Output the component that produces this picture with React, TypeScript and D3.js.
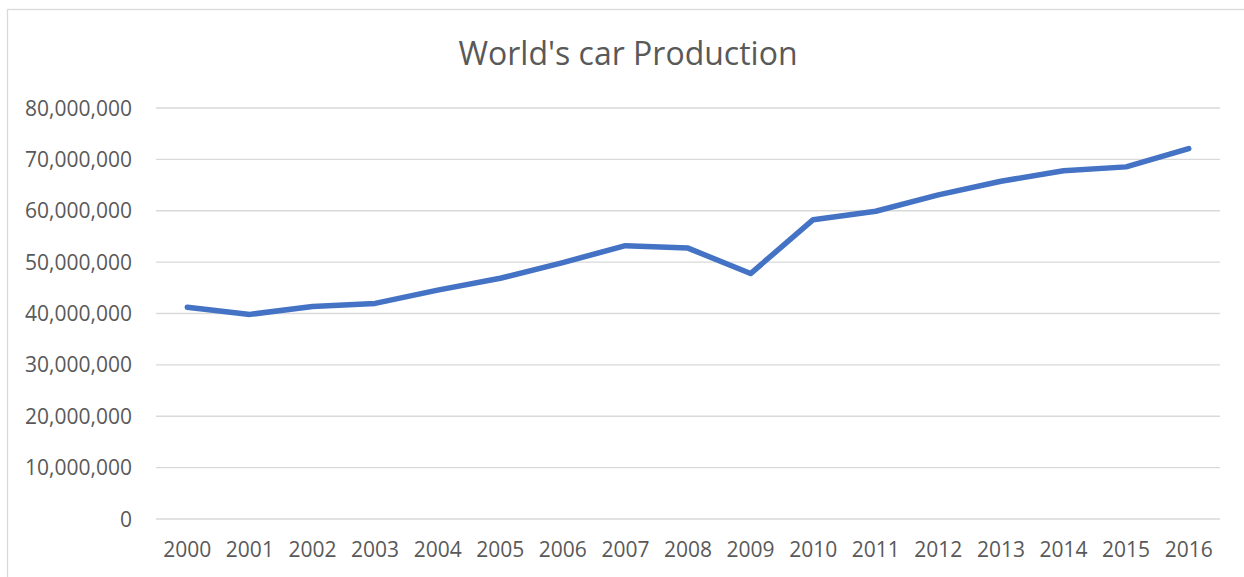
import React, { useEffect, useRef } from "react";
import * as d3 from "d3";

const years: string[] = [
  "2000", "2001", "2002", "2003", "2004", "2005", "2006", "2007", "2008",
  "2009", "2010", "2011", "2012", "2013", "2014", "2015", "2016",
];

const production: number[] = [
  41215653, 39825888, 41358394, 41968666, 44554268, 46862978, 49918578,
  53201346, 52726117, 47772598, 58264852, 59897273, 63081024, 65745403,
  67782035, 68539516, 72105435,
];

const yTicks: number[] = [0, 10000000, 20000000, 30000000, 40000000, 50000000, 60000000, 70000000, 80000000];

const title = "World's car Production";

const W = 1244;
const H = 577;
const FONT = "'Open Sans', 'Liberation Sans', sans-serif";
const TEXT = "#595959";
const GRID = "#d9d9d9";
const LINE = "#4472c4";

export default function App() {
  const ref = useRef<SVGSVGElement | null>(null);

  useEffect(() => {
    document.body.style.margin = "0";
    const svg = d3.select(ref.current);
    svg.selectAll("*").remove();

    const left = 156;
    const right = 1220;
    const top = 108;
    const bottom = 519;

    const x = d3.scaleBand<string>().domain(years).range([left, right]);
    const y = d3.scaleLinear().domain([0, 80000000]).range([bottom, top]);

    // chart area background and frame
    svg.append("rect").attr("x", 0).attr("y", 0).attr("width", W).attr("height", H).attr("fill", "#fff");
    svg.append("rect")
      .attr("x", 7.5).attr("y", 9.5)
      .attr("width", W + 20).attr("height", H + 20)
      .attr("fill", "#fff").attr("stroke", GRID).attr("stroke-width", 1.3);

    // title
    svg.append("text")
      .attr("x", 628).attr("y", 65)
      .attr("text-anchor", "middle")
      .attr("font-family", FONT).attr("font-size", 32)
      .attr("fill", TEXT)
      .text(title);

    // horizontal gridlines
    svg.append("g").selectAll("line").data(yTicks).join("line")
      .attr("x1", left).attr("x2", right)
      .attr("y1", (d) => y(d)).attr("y2", (d) => y(d))
      .attr("stroke", GRID).attr("stroke-width", 1.3);

    // y axis labels
    const fmt = d3.format(",");
    svg.append("g").selectAll("text").data(yTicks).join("text")
      .attr("x", 132).attr("y", (d) => y(d))
      .attr("dy", "0.36em")
      .attr("text-anchor", "end")
      .attr("font-family", FONT).attr("font-size", 21)
      .attr("fill", TEXT)
      .text((d) => fmt(d));

    // x axis labels
    svg.append("g").selectAll("text").data(years).join("text")
      .attr("x", (d) => (x(d) as number) + x.bandwidth() / 2)
      .attr("y", 557)
      .attr("text-anchor", "middle")
      .attr("font-family", FONT).attr("font-size", 21)
      .attr("fill", TEXT)
      .text((d) => d);

    // production line
    const line = d3.line<number>()
      .x((_, i) => (x(years[i]) as number) + x.bandwidth() / 2)
      .y((d) => y(d));

    svg.append("path")
      .datum(production)
      .attr("d", line)
      .attr("fill", "none")
      .attr("stroke", LINE)
      .attr("stroke-width", 5.5)
      .attr("stroke-linecap", "round")
      .attr("stroke-linejoin", "round");
  }, []);

  return <svg ref={ref} width={W} height={H} style={{ display: "block" }} />;
}
